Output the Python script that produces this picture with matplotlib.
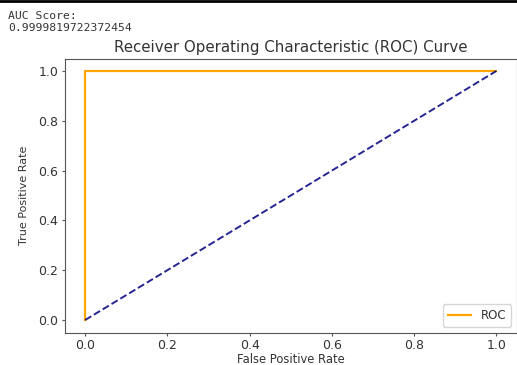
import matplotlib.pyplot as plt
from matplotlib.lines import Line2D

# ROC values
fpr = [0.0, 0.0, 0.0, 1.0]
tpr = [0.0, 0.999, 1.0, 1.0]
diag = [0.0, 1.0]
auc_score = 0.9999819722372454

text_col = "#333333"
plt.rcParams["text.color"] = text_col
plt.rcParams["axes.labelcolor"] = text_col
plt.rcParams["xtick.color"] = "#555555"
plt.rcParams["ytick.color"] = "#555555"
plt.rcParams["xtick.labelcolor"] = text_col
plt.rcParams["ytick.labelcolor"] = text_col
plt.rcParams["axes.edgecolor"] = "#555555"

fig = plt.figure(figsize=(5.17, 3.65), dpi=100)
# thin dark rule at the top of the notebook cell
fig.add_artist(Line2D([0, 1], [0.997, 0.997], color="black", lw=2, transform=fig.transFigure))
fig.text(8 / 517, 1 - 11 / 365, "AUC Score:\n" + str(auc_score), family="DejaVu Sans Mono",
         fontsize=8.2, va="top", ha="left", color="#333333", linespacing=1.3)

ax = fig.add_axes([64.5 / 517, 1 - 332.5 / 365, (517 - 64.5) / 517, (332.5 - 58.5) / 365])
ax.plot(fpr, tpr, color="orange", lw=1.6, label="ROC")
ax.plot(diag, diag, color="navy", linestyle="--", lw=1.4, alpha=0.85)
ax.set_xlabel("False Positive Rate", fontsize=8.3, labelpad=1)
ax.set_ylabel("True Positive Rate", fontsize=8, labelpad=7)
ax.set_title("Receiver Operating Characteristic (ROC) Curve", fontsize=10.8, pad=5)
ax.tick_params(labelsize=9, length=2.5, pad=2)
ax.legend(loc="lower right", fontsize=8.5)

fig.savefig("out.png", dpi=100)
